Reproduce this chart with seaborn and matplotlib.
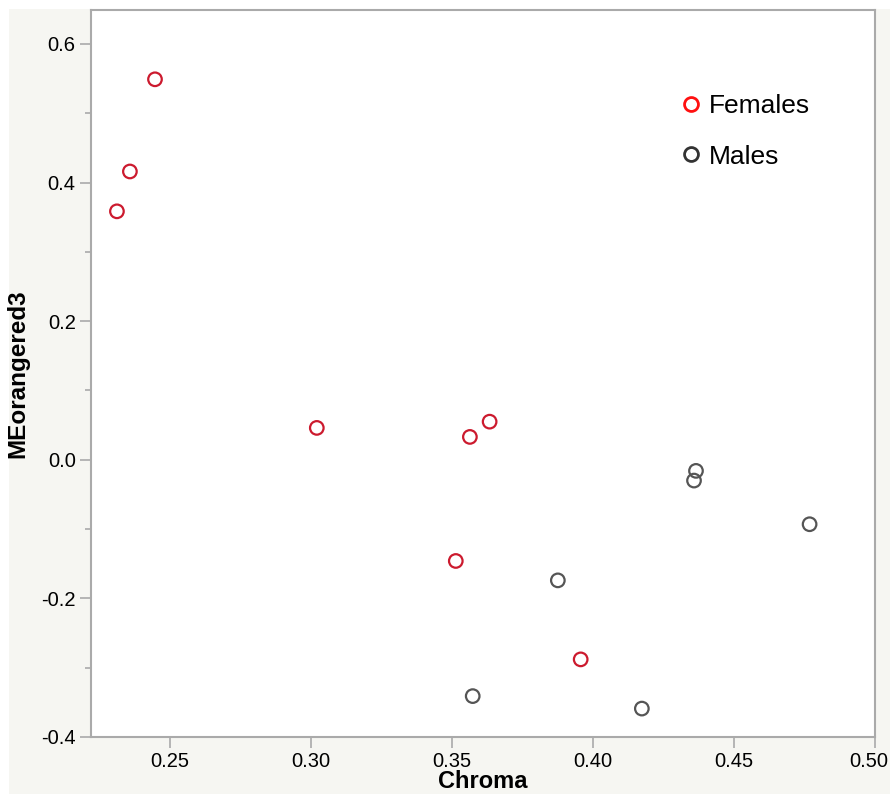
import matplotlib
matplotlib.use("Agg")
from matplotlib import pyplot as plt
from matplotlib.lines import Line2D
from matplotlib.patches import Rectangle
from matplotlib.ticker import FixedLocator, FormatStrFormatter
from matplotlib.transforms import ScaledTranslation
import seaborn as sns
import pandas as pd

# data
chroma_females = [0.2446, 0.2357, 0.2311, 0.3020, 0.3563, 0.3633, 0.3513, 0.3956]
me_females = [0.549, 0.416, 0.3585, 0.046, 0.033, 0.055, -0.146, -0.288]
chroma_males = [0.4365, 0.4358, 0.4768, 0.3875, 0.3573, 0.4173]
me_males = [-0.016, -0.030, -0.093, -0.174, -0.341, -0.359]
groups = ["Females", "Males"]

x_ticks = [0.25, 0.30, 0.35, 0.40, 0.45, 0.50]
y_ticks = [-0.4, -0.2, 0.0, 0.2, 0.4, 0.6]
y_minor = [-0.3, -0.1, 0.1, 0.3, 0.5]

df = pd.DataFrame({
    "Chroma": chroma_females + chroma_males,
    "MEorangered3": me_females + me_males,
    "Sex": ["Females"] * len(chroma_females) + ["Males"] * len(chroma_males),
})

sns.set_theme(style="white")
plt.rcParams["font.family"] = ["Liberation Sans", "DejaVu Sans"]
plt.rcParams["axes.unicode_minus"] = False
plt.rcParams["text.color"] = "black"

point_colors = {"Females": "#cc1a2e", "Males": "#555555"}
legend_colors = {"Females": "#ff1010", "Males": "#333333"}

fig = plt.figure(figsize=(8.9, 7.94), dpi=100, facecolor="white")
# off-white panel behind the plot
fig.patches.append(Rectangle((9 / 890, 0), 1, 1 - 9 / 794, transform=fig.transFigure,
                             facecolor="#f6f6f2", edgecolor="none", zorder=-10))
ax = fig.add_axes([91 / 890, 57 / 794, 784 / 890, 727 / 794])
ax.set_facecolor("white")
ax.set_zorder(1)

sns.scatterplot(data=df, x="Chroma", y="MEorangered3", hue="Sex", hue_order=groups,
                palette=point_colors, s=95, linewidth=1.6, legend=False, ax=ax)
pts = ax.collections[0]
pts.set_edgecolors(pts.get_facecolors())
pts.set_facecolors("none")

ax.set_xlim(0.2219, 0.50)
ax.set_ylim(-0.40, 0.649)
ax.xaxis.set_major_locator(FixedLocator(x_ticks))
ax.yaxis.set_major_locator(FixedLocator(y_ticks))
ax.yaxis.set_minor_locator(FixedLocator(y_minor))
ax.xaxis.set_major_formatter(FormatStrFormatter("%.2f"))
ax.yaxis.set_major_formatter(FormatStrFormatter("%.1f"))
ax.tick_params(axis="both", which="major", direction="out", length=8, width=1.2,
               color="#aaaaaa", labelsize=14.5, pad=3, labelcolor="black")
ax.tick_params(axis="y", which="minor", direction="out", length=4, width=1.2, color="#aaaaaa")
ax.tick_params(left=True, bottom=True, which="both")

# keep the last x label inside the figure, as in the reference
fig.canvas.draw()
last = ax.get_xticklabels()[-1]
last.set_transform(last.get_transform() + ScaledTranslation(-6 / 100, 0, fig.dpi_scale_trans))

for sp in ax.spines.values():
    sp.set_color("#aaaaaa")
    sp.set_linewidth(1.5)

ax.set_xlabel("Chroma", fontsize=17, fontweight="bold", color="black")
ax.set_ylabel("MEorangered3", fontsize=17.5, fontweight="bold", color="black")
ax.xaxis.set_label_coords(0.5, -0.046)
ax.yaxis.set_label_coords(-0.078, 0.5)

handles = [Line2D([], [], linestyle="none", marker="o", markersize=10,
                  markerfacecolor="none", markeredgecolor=legend_colors[g],
                  markeredgewidth=2) for g in groups]
leg = ax.legend(handles, groups, loc="upper left", bbox_to_anchor=(0.752, 0.884), frameon=False,
                fontsize=19, handlelength=0.8, handletextpad=0.28, labelspacing=1.0,
                borderpad=0, borderaxespad=0)
for t in leg.get_texts():
    t.set_color("black")

plt.savefig("out.png", dpi=100, facecolor=fig.get_facecolor())
